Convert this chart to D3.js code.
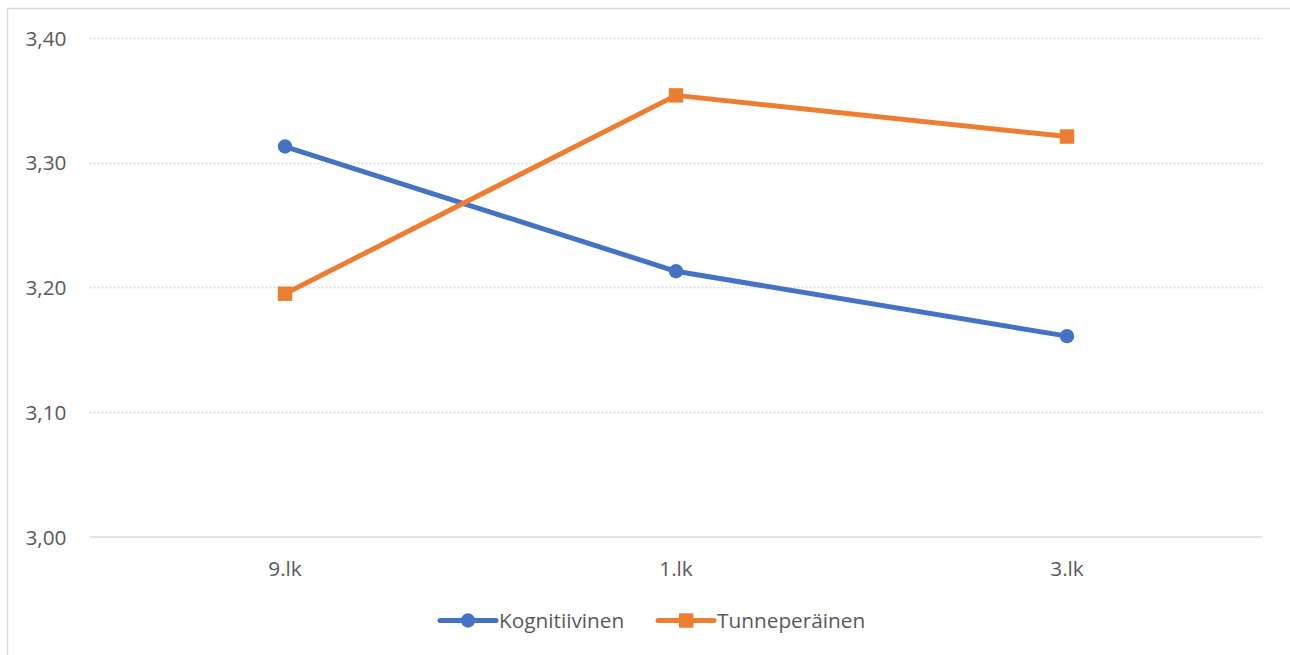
<!DOCTYPE html>
<html><head><meta charset="utf-8">
<script src="https://cdn.jsdelivr.net/npm/d3@7"></script>
<style>body{margin:0;background:#fff;}svg{display:block;}</style>
</head><body>
<svg id="c" width="1290" height="655"></svg>
<script>
const categories = ["9.lk", "1.lk", "3.lk"];
const seriesNames = ["Kognitiivinen", "Tunneperäinen"];
const kognitiivinen = [3.313, 3.213, 3.161];
const tunneperainen = [3.195, 3.354, 3.321];
const yTicks = [3.00, 3.10, 3.20, 3.30, 3.40];
const colors = ["#4472C4", "#ED7D31"];

const svg = d3.select("#c");
const font = "'Open Sans', sans-serif";
const fs = 20.8;
// chart border
svg.append("rect").attr("x", 7.5).attr("y", 8.5).attr("width", 1290).attr("height", 660)
  .attr("fill", "none").attr("stroke", "#d9d9d9").attr("stroke-width", 1.5);

const x = d3.scaleBand().domain(categories).range([89.5, 1262.5]);
const y = d3.scaleLinear().domain([3.0, 3.4]).range([537, 38]);

// gridlines
const fmt = d => d.toFixed(2).replace(".", ",");
svg.append("g").selectAll("line").data(yTicks.filter(t => t > 3.0)).join("line")
  .attr("x1", 89.5).attr("x2", 1262.5)
  .attr("y1", d => Math.round(y(d)) + 0.5).attr("y2", d => Math.round(y(d)) + 0.5)
  .attr("stroke", "#d9d9d9").attr("stroke-width", 1.3).attr("stroke-dasharray", "2,2");
// baseline
svg.append("line").attr("x1", 89.5).attr("x2", 1262.5).attr("y1", y(3.0)).attr("y2", y(3.0))
  .attr("stroke", "#d9d9d9").attr("stroke-width", 1.5);

// y axis labels
const yAxis = d3.axisLeft(y).tickValues(yTicks).tickFormat(fmt).tickSize(0).tickPadding(0);
const ga = svg.append("g").attr("transform", "translate(66.5,0.5)").call(yAxis);
ga.select(".domain").remove();
ga.selectAll("text").attr("font-family", font).attr("font-size", fs).attr("fill", "#595959");

// x axis labels
const xAxis = d3.axisBottom(x).tickSize(0).tickPadding(0);
const gx = svg.append("g").attr("transform", "translate(0,561)").call(xAxis);
gx.select(".domain").remove();
gx.selectAll("text").attr("font-family", font).attr("font-size", fs).attr("fill", "#595959").attr("dy", "0.71em");

const series = [kognitiivinen, tunneperainen];
const line = d3.line().x((d, i) => x(categories[i]) + x.bandwidth() / 2).y(d => y(d));
series.forEach((vals, si) => {
  svg.append("path").datum(vals).attr("d", line).attr("fill", "none")
    .attr("stroke", colors[si]).attr("stroke-width", 5).attr("stroke-linejoin", "round").attr("stroke-linecap", "round");
  const g = svg.append("g");
  vals.forEach((v, i) => {
    const cx = x(categories[i]) + x.bandwidth() / 2, cy = y(v);
    if (si === 0) g.append("circle").attr("cx", cx).attr("cy", cy).attr("r", 7.2).attr("fill", colors[si]);
    else g.append("rect").attr("x", cx - 7.2).attr("y", cy - 7.2).attr("width", 14.4).attr("height", 14.4).attr("fill", colors[si]);
  });
});

// legend
const legY = 620.5;
const leg = [{x: 440, tx: 499}, {x: 658, tx: 717}];
seriesNames.forEach((n, si) => {
  const L = leg[si];
  svg.append("line").attr("x1", L.x).attr("x2", L.x + 56).attr("y1", legY).attr("y2", legY)
    .attr("stroke", colors[si]).attr("stroke-width", 5).attr("stroke-linecap", "round");
  if (si === 0) svg.append("circle").attr("cx", L.x + 28).attr("cy", legY).attr("r", 7.2).attr("fill", colors[si]);
  else svg.append("rect").attr("x", L.x + 21).attr("y", legY - 7.2).attr("width", 14.4).attr("height", 14.4).attr("fill", colors[si]);
  svg.append("text").attr("x", L.tx).attr("y", legY).attr("dy", "0.35em").text(n)
    .attr("font-family", font).attr("font-size", fs).attr("fill", "#595959");
});
</script>
</body></html>
